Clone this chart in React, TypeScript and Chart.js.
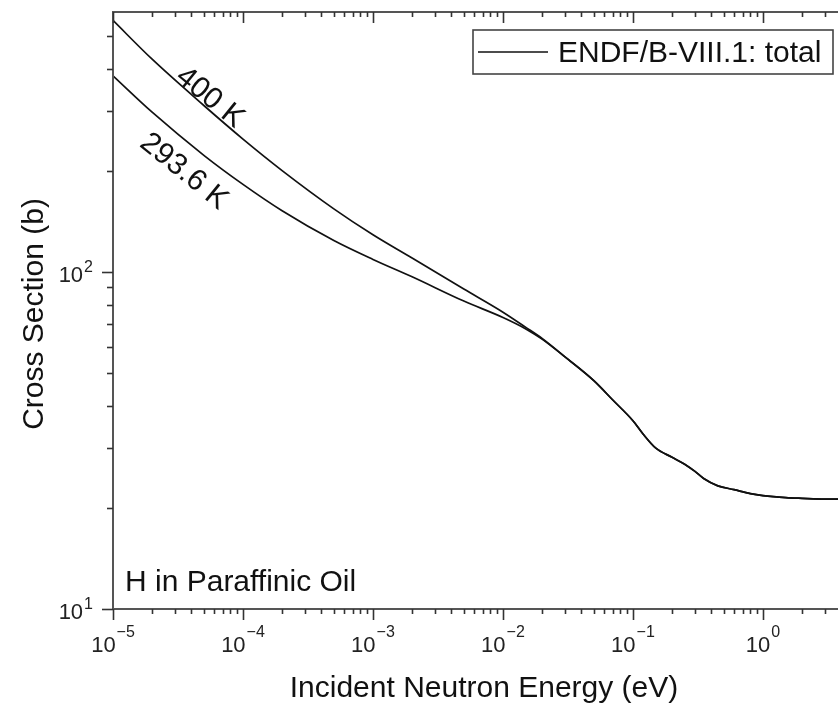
import { useEffect, useRef } from "react";
import { Chart, registerables } from "chart.js";

Chart.register(...registerables);

// ---- Data ----
const energyEV = [
  1e-5, 2e-5, 5e-5, 1e-4, 2e-4, 5e-4, 1e-3, 2e-3, 5e-3, 1e-2, 1.5e-2, 2e-2, 3e-2, 5e-2, 7e-2,
  0.1, 0.12, 0.15, 0.2, 0.25, 0.3, 0.35, 0.45, 0.6, 0.8, 1, 1.5, 2, 3, 4,
];
const sigma400K = [
  558, 428, 312, 248, 200, 154, 129, 110, 89, 76, 68.5, 63.5, 56.0, 47.6, 41.7,
  36.2, 33.0, 30.0, 28.2, 26.9, 25.6, 24.4, 23.2, 22.6, 22.0, 21.7, 21.4, 21.3, 21.2, 21.2,
];
const sigma293K = [
  382, 298, 222, 182, 152, 124, 109, 96.8, 82, 73.3, 67.8, 63.2, 56.0, 47.6, 41.7,
  36.2, 33.0, 30.0, 28.2, 26.9, 25.6, 24.4, 23.2, 22.6, 22.0, 21.7, 21.4, 21.3, 21.2, 21.2,
];

const xMajorTicks = [1e-5, 1e-4, 1e-3, 1e-2, 1e-1, 1];
const xTickExponents = ["\u22125", "\u22124", "\u22123", "\u22122", "\u22121", "0"];
const yMajorTicks = [10, 100];
const yTickExponents = ["1", "2"];

const xTitle = "Incident Neutron Energy (eV)";
const yTitle = "Cross Section (b)";
const legendLabel = "ENDF/B-VIII.1: total";
const noteText = "H in Paraffinic Oil";
const curveLabels = ["400 K", "293.6 K"];
// label anchor (data coordinates)
const curveLabelE = [5.7e-5, 3.6e-5];
const curveLabelSigma = [333, 201];

const X_MIN = 1e-5;
const X_MAX = 3.78;
const Y_MIN = 10;
const Y_MAX = 591;

const FONT = '"Liberation Sans", Arial, Helvetica, sans-serif';

function drawPower(
  ctx: CanvasRenderingContext2D,
  exp: string,
  x: number,
  baseY: number,
  expY: number,
  align: "center" | "right"
) {
  ctx.font = `22px ${FONT}`;
  const wb = ctx.measureText("10").width;
  ctx.font = `16px ${FONT}`;
  const we = ctx.measureText(exp).width;
  const total = wb + 1 + we;
  const x0 = align === "center" ? x - total / 2 : x - total;
  ctx.textAlign = "left";
  ctx.textBaseline = "alphabetic";
  ctx.font = `22px ${FONT}`;
  ctx.fillText("10", x0, baseY);
  ctx.font = `16px ${FONT}`;
  ctx.fillText(exp, x0 + wb + 1, expY);
}

const framePlugin = {
  id: "frame",
  afterDraw(chart: any) {
    const ctx: CanvasRenderingContext2D = chart.ctx;
    const { left, right, top, bottom } = chart.chartArea;
    const xs = chart.scales.x;
    const ys = chart.scales.y;
    ctx.save();

    // axis lines
    ctx.strokeStyle = "#555";
    ctx.lineWidth = 2;
    ctx.beginPath();
    ctx.moveTo(right + 2, top);
    ctx.lineTo(left, top);
    ctx.lineTo(left, bottom);
    ctx.lineTo(right + 2, bottom);
    ctx.stroke();

    // x ticks (bottom outward, top inward)
    ctx.strokeStyle = "#333";
    ctx.lineWidth = 1.6;
    for (let d = -5; d <= 0; d++) {
      for (let m = 1; m <= 9; m++) {
        const v = m * Math.pow(10, d);
        if (v > X_MAX * 1.0001) break;
        const px = Math.round(xs.getPixelForValue(v)) + 0.5;
        const len = m === 1 ? 11 : 5;
        ctx.beginPath();
        ctx.moveTo(px, bottom);
        ctx.lineTo(px, bottom + len);
        ctx.moveTo(px, top);
        ctx.lineTo(px, top + len);
        ctx.stroke();
      }
    }
    // y ticks (left outward)
    for (let d = 1; d <= 2; d++) {
      for (let m = 1; m <= 9; m++) {
        const v = m * Math.pow(10, d);
        if (v > Y_MAX) break;
        const py = Math.round(ys.getPixelForValue(v)) + 0.5;
        const len = m === 1 ? 11 : 6;
        ctx.beginPath();
        ctx.moveTo(left, py);
        ctx.lineTo(left - len, py);
        ctx.stroke();
      }
    }

    // tick labels
    ctx.fillStyle = "#222";
    xMajorTicks.forEach((v, i) => {
      const px = xs.getPixelForValue(v);
      drawPower(ctx, xTickExponents[i], px, bottom + 43, bottom + 28, "center");
    });
    yMajorTicks.forEach((v, i) => {
      const py = ys.getPixelForValue(v);
      drawPower(ctx, yTickExponents[i], left - 20, py + 10, py, "right");
    });

    // axis titles
    ctx.fillStyle = "#111";
    ctx.font = `30px ${FONT}`;
    ctx.textAlign = "center";
    ctx.textBaseline = "alphabetic";
    ctx.fillText(xTitle, 484, 697);
    ctx.save();
    ctx.translate(43, 314);
    ctx.rotate(-Math.PI / 2);
    ctx.fillText(yTitle, 0, 0);
    ctx.restore();

    // note
    ctx.textAlign = "left";
    ctx.fillText(noteText, 125, 591);

    // curve labels
    curveLabels.forEach((t, i) => {
      const px = xs.getPixelForValue(curveLabelE[i]);
      const py = ys.getPixelForValue(curveLabelSigma[i]);
      ctx.save();
      ctx.translate(px, py);
      ctx.rotate((39 * Math.PI) / 180);
      ctx.textAlign = "center";
      ctx.fillText(t, 0, 10.5);
      ctx.restore();
    });

    // legend
    ctx.fillStyle = "#fff";
    ctx.fillRect(473, 30, 360, 44);
    ctx.strokeStyle = "#444";
    ctx.lineWidth = 1.6;
    ctx.strokeRect(473, 30, 360, 44);
    ctx.strokeStyle = "#111";
    ctx.lineWidth = 1.6;
    ctx.beginPath();
    ctx.moveTo(478, 52);
    ctx.lineTo(548, 52);
    ctx.stroke();
    ctx.fillStyle = "#111";
    ctx.textAlign = "left";
    ctx.fillText(legendLabel, 558, 62);

    ctx.restore();
  },
};

export default function App() {
  const canvasRef = useRef<HTMLCanvasElement | null>(null);

  useEffect(() => {
    const canvas = canvasRef.current;
    if (!canvas) return;
    const mk = (arr: number[]) => energyEV.map((e, i) => ({ x: e, y: arr[i] }));
    const chart = new Chart(canvas, {
      type: "line",
      data: {
        datasets: [
          {
            label: "400 K",
            data: mk(sigma400K),
            borderColor: "#111",
            borderWidth: 1.7,
            pointRadius: 0,
            fill: false,
            cubicInterpolationMode: "monotone",
          },
          {
            label: "293.6 K",
            data: mk(sigma293K),
            borderColor: "#111",
            borderWidth: 1.7,
            pointRadius: 0,
            fill: false,
            cubicInterpolationMode: "monotone",
          },
        ],
      },
      options: {
        responsive: false,
        animation: false,
        layout: { padding: { left: 113, top: 12, right: 0, bottom: 94 } },
        scales: {
          x: { type: "logarithmic", min: X_MIN, max: X_MAX, display: false },
          y: { type: "logarithmic", min: Y_MIN, max: Y_MAX, display: false },
        },
        plugins: {
          legend: { display: false },
          tooltip: { enabled: false },
        },
      },
      plugins: [framePlugin],
    } as any);
    return () => chart.destroy();
  }, []);

  return (
    <div style={{ position: "absolute", left: 0, top: 0, width: 838, height: 703, background: "#fff" }}>
      <canvas ref={canvasRef} width={838} height={703} style={{ display: "block" }} />
    </div>
  );
}
